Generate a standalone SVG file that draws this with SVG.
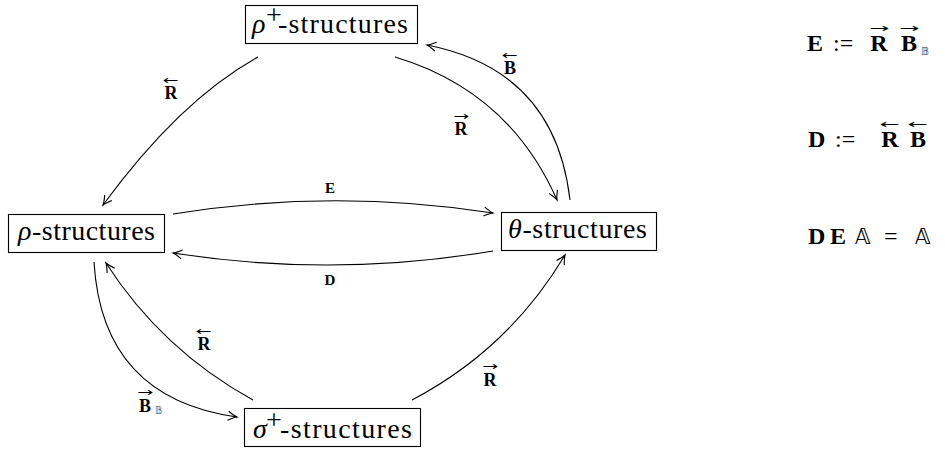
<svg xmlns="http://www.w3.org/2000/svg" width="945" height="450" viewBox="0 0 945 450">
<style>
.box{fill:#fff;stroke:#000;stroke-width:1.1}
.edge{fill:none;stroke:#000;stroke-width:1.1;marker-end:url(#arr)}
.nt{font-family:"Liberation Serif","DejaVu Serif",serif;font-size:28px}
.it{font-style:italic}
.lb{font-family:"Liberation Serif","DejaVu Serif",serif;font-weight:bold;font-size:18px;text-anchor:middle}
.sm{font-family:"Liberation Serif","DejaVu Serif",serif;font-weight:bold;font-size:15px;text-anchor:middle}
.acc{font-family:"DejaVu Sans",sans-serif;font-size:12px;text-anchor:middle}
.eq{font-family:"Liberation Serif","DejaVu Serif",serif;font-size:24px}
.b{font-weight:bold}
.ds{font-family:"DejaVu Sans","Noto Sans",sans-serif}
</style>
<defs>
<marker id="arr" markerUnits="userSpaceOnUse" markerWidth="14" markerHeight="14" viewBox="-12 -7 14 14" refX="0" refY="0" orient="auto" overflow="visible">
<path d="M-9,-4.5 Q-3,-0.8 0,0 Q-3,0.8 -9,4.5" fill="none" stroke="#000" stroke-width="1.1"/>
</marker>
</defs>
<g id="connectors">
<path class="edge" d="M258,57 Q180,100 103,205"/>
<path class="edge" d="M395,57 Q509,91 557,200"/>
<path class="edge" d="M570,200 Q555,70 427,45"/>
<path class="edge" d="M173,214 Q333,188 493,213"/>
<path class="edge" d="M493,251 Q333,278 173,253"/>
<path class="edge" d="M253,400 Q162,350 106,263"/>
<path class="edge" d="M94,262 Q102,398 237,417"/>
<path class="edge" d="M412,400 Q509,349 565,255"/>
</g>
<g id="edge-labels">
<text class="acc" x="171" y="84" textLength="16" lengthAdjust="spacingAndGlyphs">←</text>
<text class="lb" x="171" y="99">R</text>
<text class="acc" x="510" y="59" textLength="16" lengthAdjust="spacingAndGlyphs">←</text>
<text class="lb" x="510" y="74">B</text>
<text class="acc" x="461" y="120" textLength="16" lengthAdjust="spacingAndGlyphs">→</text>
<text class="lb" x="461" y="135">R</text>
<text class="sm" x="330" y="193">E</text>
<text class="sm" x="330" y="285">D</text>
<text class="acc" x="204" y="335" textLength="16" lengthAdjust="spacingAndGlyphs">←</text>
<text class="lb" x="204" y="350">R</text>
<text class="acc" x="145" y="396" textLength="16" lengthAdjust="spacingAndGlyphs">→</text>
<text class="lb" x="145" y="412">B</text>
<text class="ds" x="155" y="414" font-size="10" fill="#555">𝔹</text>
<text class="acc" x="490" y="370" textLength="16" lengthAdjust="spacingAndGlyphs">→</text>
<text class="lb" x="490" y="386">R</text>
</g>
<g id="rho-plus">
<rect class="box" x="245.5" y="5.5" width="172" height="38"/>
<text class="nt it" x="252" y="33">ρ</text>
<text class="nt" x="266" y="24" font-size="18">+</text>
<text class="nt" x="278" y="33" textLength="130" lengthAdjust="spacing">-structures</text>
</g>
<g id="rho">
<rect class="box" x="8.5" y="214.5" width="156" height="38"/>
<text class="nt" x="18" y="240" textLength="137" lengthAdjust="spacing"><tspan class="it">ρ</tspan>-structures</text>
</g>
<g id="theta">
<rect class="box" x="501.5" y="212.5" width="155" height="38"/>
<text class="nt" x="508" y="238" textLength="139" lengthAdjust="spacing"><tspan class="it">θ</tspan>-structures</text>
</g>
<g id="sigma-plus">
<rect class="box" x="244.5" y="408.5" width="176" height="38"/>
<text class="nt it" x="253" y="438">σ</text>
<text class="nt" x="266" y="429" font-size="18">+</text>
<text class="nt" x="280" y="438" textLength="132" lengthAdjust="spacing">-structures</text>
</g>
<g id="equations">
<text class="eq b" x="807" y="51">E</text>
<text class="eq" x="833" y="51">:=</text>
<text class="acc" x="879" y="32" font-size="14" textLength="20" lengthAdjust="spacingAndGlyphs">→</text>
<text class="eq b" x="879" y="51" text-anchor="middle">R</text>
<text class="acc" x="909" y="32" font-size="14" textLength="20" lengthAdjust="spacingAndGlyphs">→</text>
<text class="eq b" x="909" y="51" text-anchor="middle">B</text>
<text class="ds" x="921" y="55" font-size="11" fill="#444">𝔹</text>
<text class="eq b" x="808" y="147">D</text>
<text class="eq" x="835" y="147">:=</text>
<text class="acc" x="890" y="128" font-size="14" textLength="20" lengthAdjust="spacingAndGlyphs">←</text>
<text class="eq b" x="890" y="147" text-anchor="middle">R</text>
<text class="acc" x="918" y="128" font-size="14" textLength="20" lengthAdjust="spacingAndGlyphs">←</text>
<text class="eq b" x="918" y="147" text-anchor="middle">B</text>
<text class="eq b" x="808" y="244">D</text>
<text class="eq b" x="830" y="244">E</text>
<text class="ds" x="855" y="244" font-size="21">𝔸</text>
<text class="eq" x="884" y="244">=</text>
<text class="ds" x="915" y="244" font-size="21">𝔸</text>
</g>
</svg>
